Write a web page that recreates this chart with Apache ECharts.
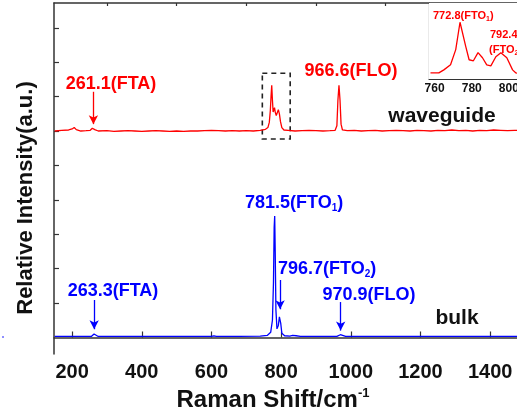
<!DOCTYPE html>
<html>
<head>
<meta charset="utf-8">
<script src="https://cdn.jsdelivr.net/npm/echarts@6/dist/echarts.min.js"></script>
<style>
html, body { margin: 0; padding: 0; background: #fff; }
#chart { width: 517px; height: 415px; }
</style>
</head>
<body>
<div id="chart"></div>
<script>
// waveguide spectrum (red), offset so its baseline sits at 6
var waveX = [150, 170, 190, 200, 206, 212, 225, 240, 252, 258, 261, 265, 275, 300, 320, 340, 360, 380, 400, 420,
	440, 460, 480, 500, 520, 540, 560, 580, 600, 620, 640, 660, 680, 700, 720, 740, 755, 762, 766, 769,
	771, 773, 775, 777, 779, 781, 783, 786, 789, 792, 795, 798, 802, 808, 820, 840, 860, 880, 900, 920,
	940, 955, 960, 963, 966, 969, 972, 976, 990, 1010, 1030, 1050, 1070, 1090, 1110, 1130, 1150, 1170, 1190, 1210,
	1230, 1250, 1270, 1290, 1310, 1330, 1350, 1370, 1390, 1410, 1430, 1450, 1470, 1490, 1500];
var waveY = [6.0, 6.02, 6.03, 6.06, 6.1, 6.04, 6.0, 6.01, 6.02, 6.08, 6.12, 6.04, 6.0, 6.01, 5.99, 6.0, 6.01, 6.0, 5.99, 6.0,
	6.01, 6.0, 5.99, 6.0, 5.99, 6.0, 6.0, 6.01, 6.02, 6.01, 6.0, 6.01, 6.0, 6.01, 6.0, 6.02, 6.05, 6.1, 6.25, 6.6,
	7.0, 7.33, 6.9, 6.55, 6.5, 6.68, 6.55, 6.45, 6.5, 6.62, 6.5, 6.28, 6.1, 6.03, 6.02, 6.0, 6.01, 6.02, 6.01, 6.0,
	6.01, 6.02, 6.15, 6.9, 7.33, 6.9, 6.2, 6.03, 6.01, 6.02, 6.0, 6.01, 6.02, 6.0, 6.01, 6.02, 6.01, 6.0, 6.02, 6.01,
	6.0, 6.02, 6.01, 6.03, 6.01, 6.02, 6.0, 6.02, 6.01, 6.03, 6.02, 6.01, 6.02, 6.01, 6.02];

// bulk spectrum (blue)
var bulkX = [150, 200, 255, 260, 263, 267, 275, 350, 450, 550, 600, 607, 614, 680, 740, 760, 770, 775, 778, 780,
	781.5, 783, 785, 788, 790, 792, 795, 797, 799, 802, 810, 825, 833, 838, 843, 855, 900, 960, 965, 970,
	975, 985, 1100, 1250, 1400, 1500];
var bulkY = [0.03, 0.03, 0.03, 0.06, 0.1, 0.05, 0.03, 0.03, 0.03, 0.03, 0.03, 0.05, 0.03, 0.03, 0.04, 0.06, 0.15, 0.5, 1.6, 3.2,
	3.53, 2.5, 0.8, 0.25, 0.2, 0.35, 0.6, 0.65, 0.4, 0.12, 0.05, 0.04, 0.06, 0.1, 0.05, 0.03, 0.03, 0.03, 0.04, 0.08,
	0.04, 0.03, 0.03, 0.03, 0.03, 0.03];

// inset: zoom of the waveguide doublet
var insetX = [757.8, 762.3, 765, 768.6, 771.4, 773.7, 776.8, 778.6, 780.9, 783.4, 785.8, 788.1, 790.3, 793, 795.7, 798.9, 802, 803.8, 806];
var insetY = [6, 6, 9, 14, 29, 56, 32, 19, 18, 26, 21, 14, 13, 22, 26, 21, 9, 6, 5];

var xTicks = [200, 400, 600, 800, 1000, 1200, 1400];
var xMinor = [300, 500, 700, 900, 1100, 1300, 1500];
var yTicks = [1, 2, 3, 4, 5, 6, 7, 8, 9];
var insetXTicks = [760, 770, 780, 790, 800];
var insetXLabels = [760, 780, 800];
var insetYTicks = [3, 26, 50, 73];

function pairs(xs, ys) {
	var out = [];
	for (var i = 0; i < xs.length; i++) out.push([xs[i], ys[i]]);
	return out;
}

var RED = '#ff0000', BLUE = '#0000ff', AX = '#333';
var FONT = 'Liberation Sans, Arial, sans-serif';

var myChart = echarts.init(document.getElementById('chart'));

function arrow(x, y1, y2) {
	return [{ coord: [x, y1] }, { coord: [x, y2] }];
}
function plain(v) { return String(v); }

var option = {
	animation: false,
	textStyle: { fontFamily: FONT },
	grid: [
		{ left: 54, top: 3, width: 471, height: 351, outerBoundsMode: 'none', containLabel: false },
		{ left: 429, top: 3, width: 91, height: 76, show: true, backgroundColor: '#fff', borderWidth: 0, z: 5, outerBoundsMode: 'none', containLabel: false }
	],
	xAxis: [{
		type: 'value', gridIndex: 0, min: 148, max: 1500,
		axisLine: { lineStyle: { color: AX, width: 1.5 } },
		axisTick: { inside: true, length: 6, customValues: xTicks, lineStyle: { color: AX, width: 1.2 } },
		axisLabel: { customValues: xTicks, formatter: plain, color: '#111', fontWeight: 'bold', fontSize: 20, margin: 8, fontFamily: FONT },
		splitLine: { show: false }
	}, {
		type: 'value', gridIndex: 0, min: 148, max: 1500,
		axisLine: { show: false },
		axisTick: { inside: true, length: 3, customValues: xMinor, lineStyle: { color: AX, width: 1.2 } },
		axisLabel: { show: false }, splitLine: { show: false }
	}, {
		type: 'value', gridIndex: 0, min: 148, max: 1500, position: 'top',
		axisLine: { lineStyle: { color: AX, width: 1.5 } },
		axisTick: { show: false }, axisLabel: { show: false }, splitLine: { show: false }
	}, {
		type: 'value', gridIndex: 1, min: 757, max: 806,
		axisLine: { lineStyle: { color: AX, width: 1.2 } },
		axisTick: { inside: true, length: 3, customValues: insetXTicks, lineStyle: { color: AX } },
		axisLabel: { customValues: insetXLabels, formatter: plain, color: '#111', fontWeight: 'bold', fontSize: 12, margin: 4, fontFamily: FONT },
		splitLine: { show: false }
	}],
	yAxis: [{
		type: 'value', gridIndex: 0, min: -0.48, max: 9.72,
		axisLine: { show: true, lineStyle: { color: AX, width: 1.5 } },
		axisTick: { show: true, inside: true, length: 5, customValues: yTicks, lineStyle: { color: AX, width: 1.2 } },
		axisLabel: { show: false }, splitLine: { show: false }
	}, {
		type: 'value', gridIndex: 1, min: 0, max: 75,
		axisLine: { show: true, lineStyle: { color: AX, width: 1.2 } },
		axisTick: { show: true, inside: true, length: 3, customValues: insetYTicks, lineStyle: { color: AX } },
		axisLabel: { show: false }, splitLine: { show: false }
	}],
	series: [{
		name: 'waveguide', type: 'line', xAxisIndex: 0, yAxisIndex: 0,
		data: pairs(waveX, waveY), showSymbol: false,
		lineStyle: { color: RED, width: 1.3 }, itemStyle: { color: RED },
		markLine: {
			silent: true, symbol: ['none', 'arrow'], symbolSize: [7, 9],
			label: { show: false },
			lineStyle: { color: RED, width: 1.3, type: 'solid' },
			data: [arrow(261.1, 7.14, 6.2)]
		},
		markArea: {
			silent: true,
			itemStyle: { color: 'rgba(0,0,0,0)', borderColor: '#222', borderWidth: 1.6, borderType: [5, 4] },
			data: [[{ coord: [746, 7.68] }, { coord: [826, 5.77] }]]
		}
	}, {
		name: 'bulk', type: 'line', xAxisIndex: 0, yAxisIndex: 0,
		data: pairs(bulkX, bulkY), showSymbol: false,
		lineStyle: { color: BLUE, width: 1.3 }, itemStyle: { color: BLUE },
		markLine: {
			silent: true, symbol: ['none', 'arrow'], symbolSize: [7, 9],
			label: { show: false },
			lineStyle: { color: BLUE, width: 1.3, type: 'solid' },
			data: [arrow(263.3, 1.09, 0.24), arrow(797, 1.67, 0.82), arrow(970.9, 1.03, 0.2)]
		}
	}, {
		name: 'inset', type: 'line', xAxisIndex: 3, yAxisIndex: 1,
		data: pairs(insetX, insetY), showSymbol: false, z: 6,
		lineStyle: { color: RED, width: 1.3 }, itemStyle: { color: RED }
	}],
	graphic: [
		// axis titles
		{ type: 'text', x: 26, y: 198, rotation: Math.PI / 2, style: { text: 'Relative Intensity(a.u.)', fill: '#111', font: 'bold 22px ' + FONT, align: 'center', verticalAlign: 'middle' } },
		{ type: 'text', x: 273, y: 400, style: { text: 'Raman Shift/cm{sup|-1}', fill: '#111', font: 'bold 24px ' + FONT, align: 'center', verticalAlign: 'middle',
			rich: { sup: { fill: '#111', font: 'bold 13px ' + FONT, padding: [0, 0, 14, 0] } } } },
		// peak labels
		{ type: 'text', x: 111, y: 84, style: { text: '261.1(FTA)', fill: RED, font: 'bold 18px ' + FONT, align: 'center', verticalAlign: 'middle' } },
		{ type: 'text', x: 351, y: 71, style: { text: '966.6(FLO)', fill: RED, font: 'bold 18px ' + FONT, align: 'center', verticalAlign: 'middle' } },
		{ type: 'text', x: 442, y: 116, style: { text: 'waveguide', fill: '#111', font: 'bold 21px ' + FONT, align: 'center', verticalAlign: 'middle' } },
		{ type: 'text', x: 245, y: 203, style: { text: '781.5(FTO{s|1})', fill: BLUE, font: 'bold 18px ' + FONT, verticalAlign: 'middle',
			rich: { s: { fill: BLUE, font: 'bold 10px ' + FONT, padding: [10, 0, 0, 0] } } } },
		{ type: 'text', x: 278, y: 269, style: { text: '796.7(FTO{s|2})', fill: BLUE, font: 'bold 18px ' + FONT, verticalAlign: 'middle',
			rich: { s: { fill: BLUE, font: 'bold 10px ' + FONT, padding: [10, 0, 0, 0] } } } },
		{ type: 'text', x: 113, y: 291, style: { text: '263.3(FTA)', fill: BLUE, font: 'bold 18px ' + FONT, align: 'center', verticalAlign: 'middle' } },
		{ type: 'text', x: 369, y: 295, style: { text: '970.9(FLO)', fill: BLUE, font: 'bold 18px ' + FONT, align: 'center', verticalAlign: 'middle' } },
		{ type: 'text', x: 457, y: 318, style: { text: 'bulk', fill: '#111', font: 'bold 21px ' + FONT, align: 'center', verticalAlign: 'middle' } },
		{ type: 'text', x: 433, y: 16, z: 10, style: { text: '772.8(FTO{s|1})', fill: RED, font: 'bold 11px ' + FONT, verticalAlign: 'middle',
			rich: { s: { fill: RED, font: 'bold 7px ' + FONT, padding: [6, 0, 0, 0] } } } },
		{ type: 'text', x: 490, y: 35, z: 10, style: { text: '792.4', fill: RED, font: 'bold 11px ' + FONT, verticalAlign: 'middle' } },
		{ type: 'text', x: 489, y: 50, z: 10, style: { text: '(FTO{s|2})', fill: RED, font: 'bold 11px ' + FONT, verticalAlign: 'middle',
			rich: { s: { fill: RED, font: 'bold 7px ' + FONT, padding: [6, 0, 0, 0] } } } },
		{ type: 'circle', shape: { cx: 3, cy: 337, r: 0.8 }, style: { fill: BLUE } }
	]
};

myChart.setOption(option);
window.onresize = function() {
	myChart.resize();
};
</script>
</body>
</html>
